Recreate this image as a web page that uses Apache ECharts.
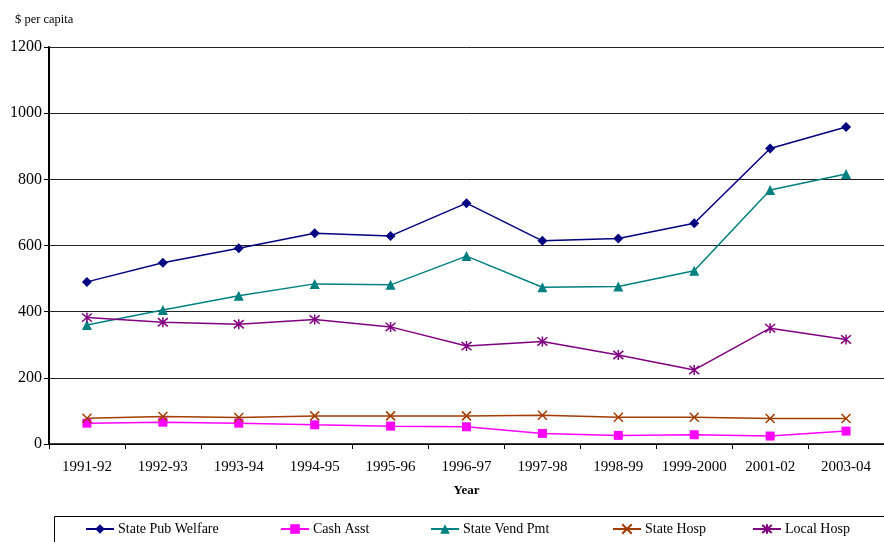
<!DOCTYPE html>
<html>
<head>
<meta charset="utf-8">
<script src="https://cdn.jsdelivr.net/npm/echarts@6/dist/echarts.min.js"></script>
<style>
  html, body { margin: 0; padding: 0; background: #fff; }
  #chart { width: 884px; height: 542px; }
</style>
</head>
<body>
<div id="chart"></div>
<script>
var years = ['1991-92', '1992-93', '1993-94', '1994-95', '1995-96', '1996-97',
             '1997-98', '1998-99', '1999-2000', '2001-02', '2003-04'];

var statePubWelfare = [490, 548, 592, 637, 629, 728, 614, 621, 667, 893, 958];
var cashAsst        = [63, 66, 63, 58, 54, 52, 32, 26, 28, 24, 39];
var stateVendPmt    = [360, 405, 448, 484, 481, 568, 474, 476, 524, 768, 816];
var stateHosp       = [78, 83, 80, 85, 85, 85, 87, 81, 81, 77, 77];
var localHosp       = [382, 368, 362, 376, 354, 296, 310, 269, 224, 350, 316];

var seriesNames = ['State Pub Welfare', 'Cash Asst', 'State Vend Pmt', 'State Hosp', 'Local Hosp'];

var font = 'Liberation Serif';

// x and asterisk markers drawn as strokes
var xMark = 'path://M0,0L10,10M10,0L0,10';
var starMark = 'path://M0,0L10,10M10,0L0,10M5,-1L5,11';

function lineSeries(name, data, color, symbol, size, stroked) {
  return {
    name: name,
    type: 'line',
    data: data,
    symbol: symbol,
    symbolSize: size,
    showAllSymbol: true,
    lineStyle: { color: color, width: 1.5 },
    itemStyle: stroked
      ? { color: 'rgba(0,0,0,0)', borderColor: color, borderWidth: 1.5 }
      : { color: color },
    emphasis: { disabled: true },
    animation: false
  };
}

// one legend per item so each sits where Excel put it
var legendLeft = [85, 280, 430, 612, 752];
var legends = seriesNames.map(function (name, i) {
  return {
    left: legendLeft[i],
    top: 522,
    padding: 0,
    itemWidth: 28,
    itemHeight: 12,
    itemGap: 0,
    textStyle: { fontFamily: font, fontSize: 14, color: '#000', padding: [0, 0, 0, -1] },
    data: [name]
  };
});

var chart = echarts.init(document.getElementById('chart'), null, { renderer: 'canvas' });

var option = {
  backgroundColor: '#fff',
  title: {
    text: '$ per capita',
    left: 10,
    top: 8,
    textStyle: { fontFamily: font, fontSize: 12.5, fontWeight: 'normal', color: '#000' }
  },
  grid: { left: 49, top: 47, width: 841, height: 397 },
  xAxis: {
    type: 'category',
    data: years,
    boundaryGap: true,
    name: 'Year',
    nameLocation: 'middle',
    nameGap: 40,
    nameTextStyle: { fontFamily: font, fontSize: 13, fontWeight: 'bold', color: '#000' },
    axisLine: { lineStyle: { color: '#000', width: 1.5 } },
    axisTick: { show: true, length: 5, alignWithLabel: false, lineStyle: { color: '#000' } },
    axisLabel: { fontFamily: font, fontSize: 15, color: '#000', margin: 16, interval: 0 },
    splitLine: { show: false }
  },
  yAxis: {
    type: 'value',
    min: 0,
    max: 1200,
    interval: 200,
    axisLine: { show: true, lineStyle: { color: '#000', width: 2 } },
    axisTick: { show: true, length: 5, lineStyle: { color: '#000' } },
    axisLabel: {
      fontFamily: font, fontSize: 16, color: '#000', margin: 7,
      formatter: function (v) { return String(v); }
    },
    splitLine: { show: true, lineStyle: { color: '#222', width: 1 } }
  },
  legend: legends,
  graphic: [{
    type: 'rect',
    left: 52,
    top: 514,
    shape: { width: 840, height: 40 },
    style: { fill: 'none', stroke: '#000', lineWidth: 1 },
    silent: true
  }],
  series: [
    lineSeries(seriesNames[0], statePubWelfare, '#000080', 'diamond', 10, false),
    lineSeries(seriesNames[1], cashAsst, '#ff00ff', 'rect', 9, false),
    lineSeries(seriesNames[2], stateVendPmt, '#008080', 'triangle', 10, false),
    lineSeries(seriesNames[3], stateHosp, '#a33c00', xMark, 9, true),
    lineSeries(seriesNames[4], localHosp, '#800080', starMark, 10, true)
  ]
};

chart.setOption(option);
</script>
</body>
</html>
